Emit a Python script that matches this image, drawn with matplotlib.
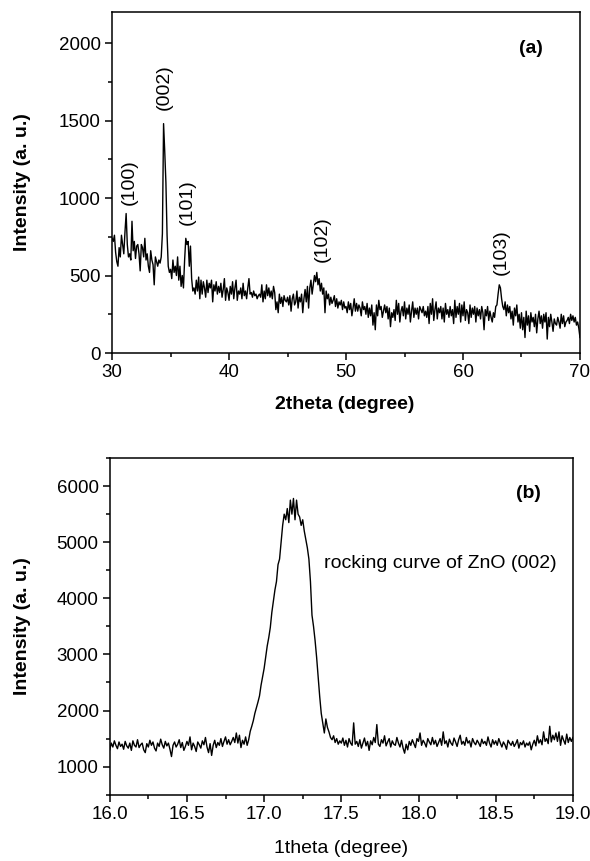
import numpy as np
import matplotlib
matplotlib.use("Agg")
import matplotlib.pyplot as plt
from matplotlib.ticker import MultipleLocator

plt.rcParams['font.family'] = ['Liberation Sans', 'DejaVu Sans']

# ---------------- (a) XRD pattern, 2theta = 30..70, step 0.1 ----------------
two_theta = np.round(np.arange(30.0, 70.0001, 0.1), 1)
xrd_counts = [
    740, 720, 760, 650, 590, 560, 680, 620, 760, 700,   # 30
    640, 780, 900, 700, 620, 640, 600, 850, 660, 720,   # 31
    610, 690, 700, 640, 530, 700, 680, 620, 740, 600,   # 32
    640, 560, 520, 660, 600, 570, 440, 620, 590, 560,   # 33
    600, 580, 620, 770, 1480, 1300, 1100, 760, 560, 520,  # 34
    540, 480, 600, 520, 560, 500, 620, 470, 560, 430,   # 35
    500, 420, 600, 740, 700, 720, 560, 690, 480, 400,   # 36
    420, 380, 470, 400, 490, 350, 470, 380, 460, 420,   # 37
    360, 470, 390, 450, 420, 470, 330, 440, 400, 460,   # 38
    380, 430, 390, 450, 360, 410, 480, 340, 420, 390,   # 39
    340, 430, 380, 460, 350, 420, 470, 340, 400, 380,   # 40
    420, 350, 450, 370, 400, 350, 420, 480, 380, 390,   # 41
    360, 400, 370, 380, 350, 370, 380, 360, 440, 330,   # 42
    400, 350, 440, 370, 420, 360, 400, 350, 430, 390,   # 43
    280, 330, 260, 380, 320, 360, 300, 370, 340, 330,   # 44
    360, 310, 370, 270, 350, 380, 310, 330, 400, 290,   # 45
    360, 330, 380, 260, 350, 410, 330, 430, 290, 420,   # 46
    470, 380, 440, 500, 460, 520, 440, 480, 400, 450,   # 47
    380, 420, 260, 400, 350, 380, 310, 360, 320, 340,   # 48
    370, 300, 350, 290, 330, 310, 340, 280, 330, 290,   # 49
    300, 260, 330, 280, 320, 240, 290, 350, 270, 320,   # 50
    270, 310, 290, 240, 330, 280, 300, 250, 320, 230,   # 51
    290, 240, 310, 180, 260, 150, 310, 240, 340, 280,   # 52
    300, 230, 270, 310, 260, 300, 220, 290, 170, 260,   # 53
    230, 280, 210, 340, 250, 320, 200, 270, 300, 240,   # 54
    330, 220, 290, 250, 310, 200, 270, 330, 230, 290,   # 55
    250, 290, 220, 300, 280, 260, 300, 240, 270, 230,   # 56
    300, 190, 320, 250, 350, 210, 280, 330, 220, 290,   # 57
    260, 300, 220, 290, 200, 320, 250, 280, 230, 300,   # 58
    240, 280, 190, 340, 230, 300, 250, 320, 200, 310,   # 59
    240, 330, 210, 280, 260, 190, 310, 230, 290, 250,   # 60
    300, 200, 290, 240, 280, 220, 300, 260, 150, 280,   # 61
    240, 300, 210, 270, 230, 200, 260, 230, 300, 310,   # 62
    380, 440, 420, 350, 300, 280, 330, 240, 310, 260,   # 63
    300, 220, 270, 180, 290, 240, 310, 200, 250, 160,   # 64
    260, 150, 230, 100, 270, 180, 240, 140, 260, 200,   # 65
    230, 170, 250, 130, 220, 270, 190, 240, 160, 250,   # 66
    200, 260, 90, 230, 170, 250, 200, 140, 220, 190,    # 67
    180, 230, 200, 160, 250, 190, 240, 170, 200, 210,   # 68
    230, 190, 250, 210, 240, 200, 230, 180, 200, 160,   # 69
    100,                                                # 70
]

peak_labels = ['(100)', '(002)', '(101)', '(102)', '(103)']
peak_pos = [31.45, 34.44, 36.4, 48.0, 63.25]
peak_label_y = [955, 1565, 825, 585, 505]

# ---------------- (b) rocking curve, 16..19, step 0.01 ----------------
omega = np.round(np.arange(16.0, 19.0001, 0.01), 2)
rock_counts = [
    1300, 1420, 1350, 1460, 1380, 1320, 1440, 1360, 1400, 1310,  # 16.0
    1450, 1370, 1330, 1420, 1290, 1460, 1380, 1350, 1480, 1340,  # 16.1
    1390, 1420, 1300, 1250, 1410, 1350, 1470, 1380, 1440, 1330,  # 16.2
    1280, 1420, 1360, 1490, 1390, 1330, 1450, 1370, 1420, 1310,  # 16.3
    1180, 1380, 1440, 1350, 1400, 1480, 1340, 1430, 1290, 1360,  # 16.4
    1450, 1380, 1530, 1300, 1420, 1360, 1270, 1440, 1390, 1330,  # 16.5
    1460, 1390, 1520, 1350, 1250, 1410, 1200, 1380, 1470, 1340,  # 16.6
    1430, 1380, 1500, 1360, 1450, 1530, 1400, 1480, 1390, 1450,  # 16.7
    1520, 1430, 1600, 1420, 1560, 1340, 1470, 1400, 1530, 1380,  # 16.8
    1480, 1630, 1720, 1820, 1950, 2050, 2150, 2260, 2450, 2600,  # 16.9
    2750, 2950, 3150, 3300, 3480, 3750, 3950, 4150, 4300, 4600,  # 17.0
    4700, 5000, 5300, 5500, 5400, 5600, 5350, 5750, 5500, 5780,  # 17.1
    5400, 5750, 5500, 5450, 5300, 5400, 5200, 5050, 4900, 4700,  # 17.2
    4300, 3700, 3500, 3250, 2950, 2600, 2250, 1950, 1780, 1600,  # 17.3
    1850, 1700, 1620, 1520, 1480, 1550, 1430, 1500, 1400, 1460,  # 17.4
    1420, 1510, 1380, 1470, 1350, 1500, 1420, 1380, 1780, 1400,  # 17.5
    1450, 1360, 1480, 1330, 1420, 1510, 1370, 1450, 1290, 1460,  # 17.6
    1390, 1520, 1430, 1750, 1400, 1360, 1480, 1420, 1550, 1370,  # 17.7
    1440, 1500, 1350, 1460, 1400, 1380, 1520, 1420, 1350, 1470,  # 17.8
    1330, 1240, 1400, 1300, 1450, 1380, 1480, 1410, 1340, 1500,  # 17.9
    1450, 1600, 1380, 1470, 1420, 1350, 1500, 1440, 1390, 1520,  # 18.0
    1400, 1470, 1360, 1430, 1500, 1380, 1620, 1410, 1460, 1350,  # 18.1
    1490, 1420, 1380, 1510, 1440, 1360, 1480, 1560, 1400, 1450,  # 18.2
    1380, 1520, 1420, 1460, 1350, 1500, 1430, 1390, 1470, 1420,  # 18.3
    1360, 1490, 1410, 1450, 1380, 1530, 1420, 1350, 1480, 1400,  # 18.4
    1460, 1380, 1500, 1420, 1350, 1440, 1390, 1310, 1470, 1420,  # 18.5
    1380, 1450, 1360, 1410, 1480, 1330, 1430, 1390, 1460, 1350,  # 18.6
    1420, 1380, 1440, 1300, 1400, 1470, 1370, 1550, 1420, 1480,  # 18.7
    1390, 1620, 1450, 1500, 1410, 1720, 1440, 1560, 1480, 1600,  # 18.8
    1450, 1620, 1380, 1550, 1470, 1400, 1580, 1430, 1520, 1450,  # 18.9
    1520,                                                        # 19.0
]

# ============================================================
fig = plt.figure(figsize=(5.9, 8.61), dpi=100)
ax1 = fig.add_axes([0.190, 0.590, 0.793, 0.396])
ax2 = fig.add_axes([0.186, 0.077, 0.785, 0.391])

for ax in (ax1, ax2):
    for s in ax.spines.values():
        s.set_linewidth(1.1)
    ax.tick_params(which='both', direction='out', top=False, right=False,
                   width=1.1, labelsize=13.5, pad=3)
    ax.tick_params(which='major', length=5)
    ax.tick_params(which='minor', length=3)

# panel (a)
ax1.plot(two_theta, xrd_counts, color='black', lw=1.0)
ax1.set_xlim(30, 70)
ax1.set_ylim(0, 2200)
ax1.xaxis.set_major_locator(MultipleLocator(10))
ax1.xaxis.set_minor_locator(MultipleLocator(5))
ax1.yaxis.set_major_locator(MultipleLocator(500))
ax1.yaxis.set_minor_locator(MultipleLocator(250))
for lab, xp, yp in zip(peak_labels, peak_pos, peak_label_y):
    ax1.text(xp, yp, lab, rotation=90, ha='center', va='bottom', fontsize=14)
ax1.text(65.8, 1968, '(a)', ha='center', va='center', fontsize=14, fontweight='bold')
ax1.set_xlabel('2theta (degree)', fontsize=14, fontweight='bold')
ax1.set_ylabel('Intensity (a. u.)', fontsize=14, fontweight='bold')
ax1.xaxis.set_label_coords(0.498, -0.125)
ax1.yaxis.set_label_coords(-0.173, 0.5)

# panel (b)
ax2.plot(omega, rock_counts, color='black', lw=1.0)
ax2.set_xlim(16, 19)
ax2.set_ylim(500, 6500)
ax2.xaxis.set_major_locator(MultipleLocator(0.5))
ax2.xaxis.set_minor_locator(MultipleLocator(0.25))
ax2.yaxis.set_major_locator(MultipleLocator(1000))
ax2.yaxis.set_minor_locator(MultipleLocator(500))
ax2.xaxis.set_major_formatter(plt.FormatStrFormatter('%.1f'))
ax2.text(18.71, 5875, '(b)', ha='center', va='center', fontsize=14, fontweight='bold')
ax2.text(17.39, 4620, 'rocking curve of ZnO (002)', ha='left', va='center', fontsize=14)
ax2.set_xlabel('1theta (degree)', fontsize=14)
ax2.set_ylabel('Intensity (a. u.)', fontsize=14, fontweight='bold')
ax2.xaxis.set_label_coords(0.499, -0.134)
ax2.yaxis.set_label_coords(-0.171, 0.5)

fig.savefig('out.png', dpi=100)
